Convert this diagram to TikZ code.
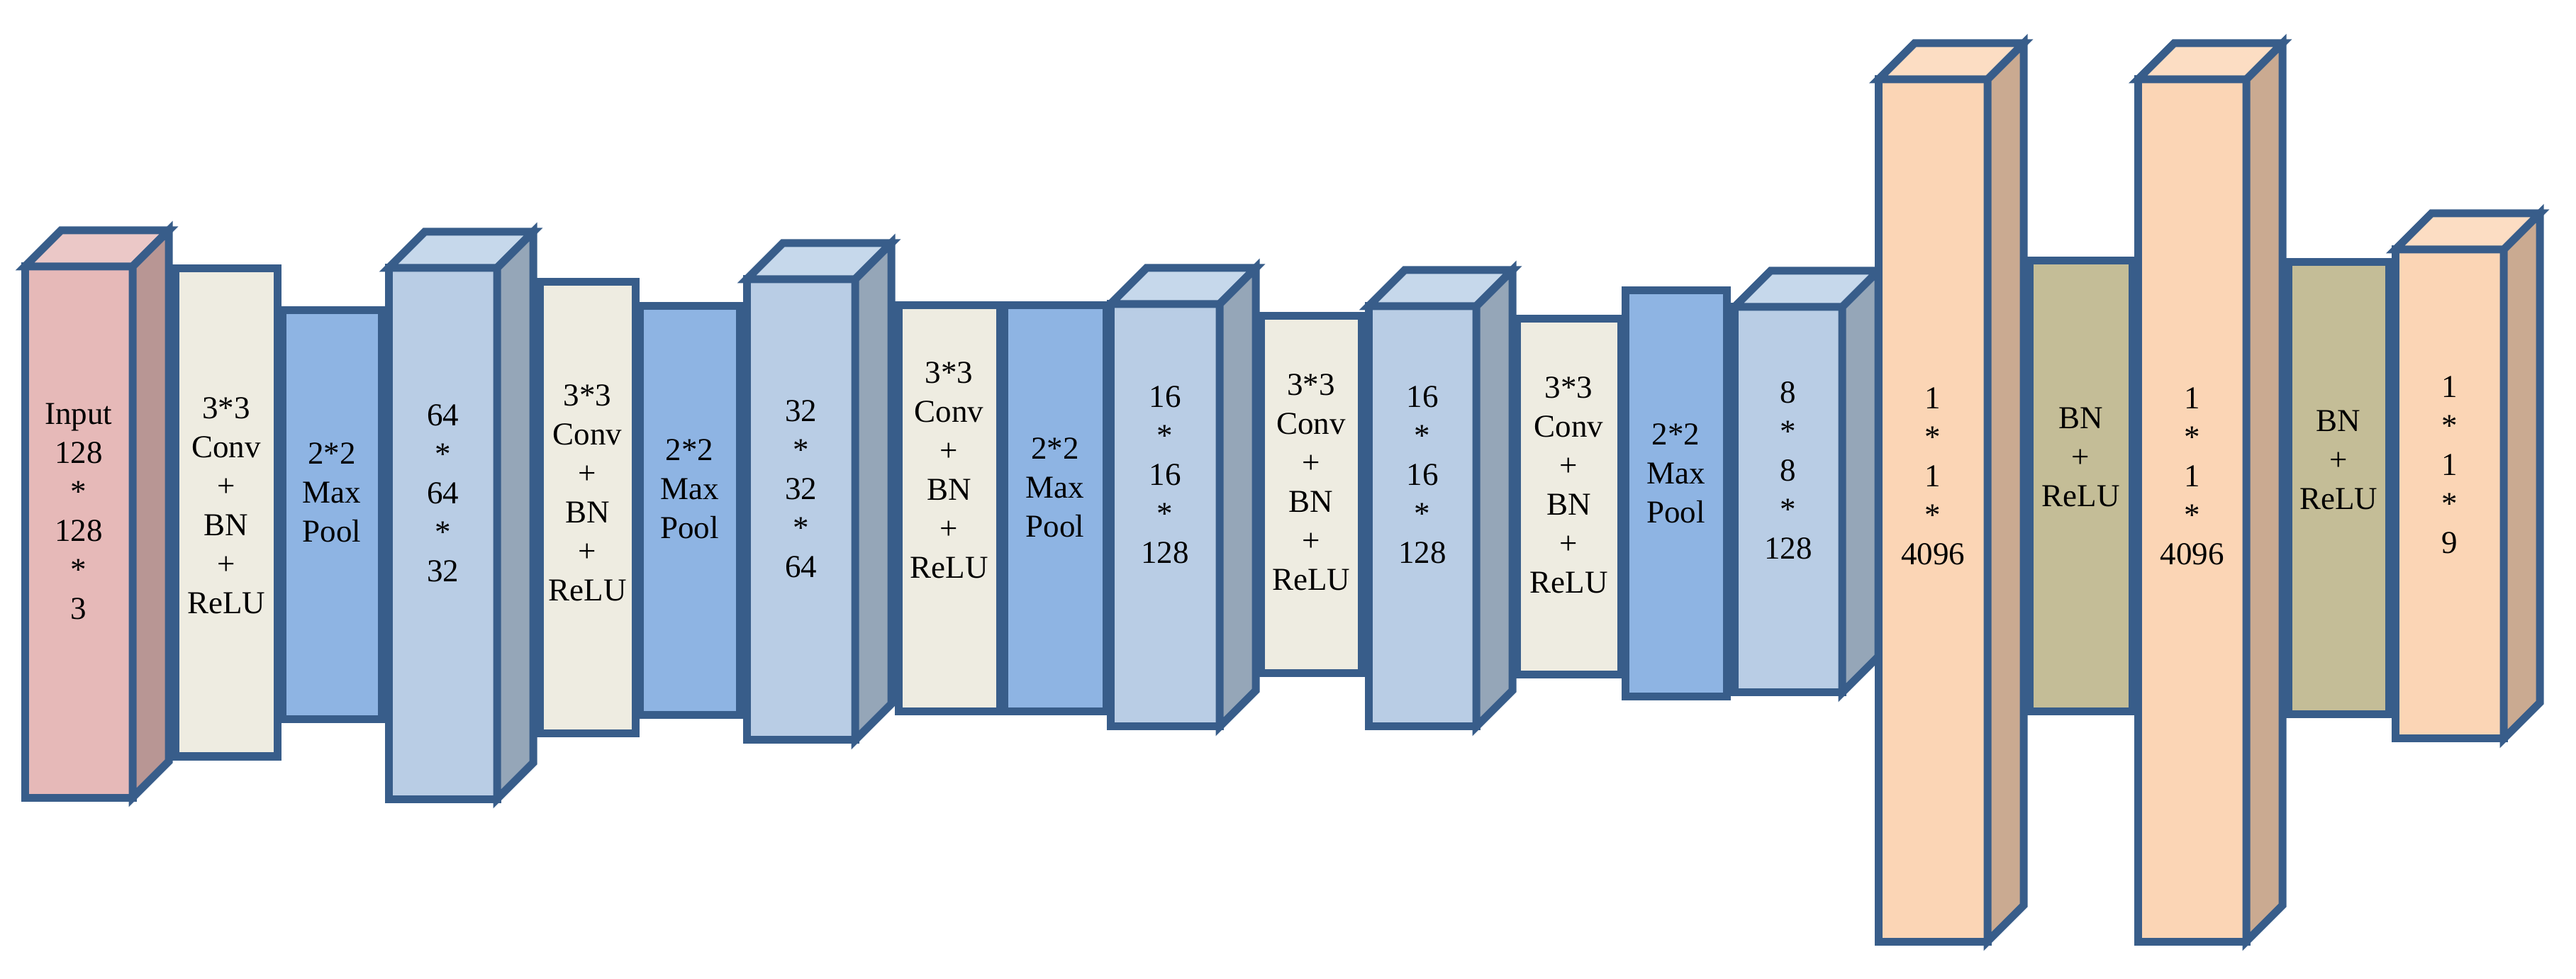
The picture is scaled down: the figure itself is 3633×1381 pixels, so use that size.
\documentclass[tikz,border=0pt]{standalone}
\usepackage{fontspec}
\setmainfont{Liberation Serif}
\definecolor{edge}{HTML}{385D8A}
\definecolor{pinkF}{HTML}{E6B9B8}
\definecolor{pinkS}{HTML}{B89694}
\definecolor{pinkT}{HTML}{EBC8C7}
\definecolor{blueF}{HTML}{B9CDE5}
\definecolor{blueS}{HTML}{95A6B8}
\definecolor{blueT}{HTML}{C6D8EB}
\definecolor{peachF}{HTML}{FBD5B5}
\definecolor{peachS}{HTML}{CAAA91}
\definecolor{peachT}{HTML}{FCDDC3}
\definecolor{creamF}{HTML}{EEECE1}
\definecolor{poolF}{HTML}{8EB4E3}
\definecolor{oliveF}{HTML}{C4BD97}
\tikzset{
  frame/.style={draw=edge, line width=2.2pt, line join=miter},
  lbl/.style={align=center, inner sep=0pt, font=\fontsize{9}{11}\selectfont, text=black}
}
% cube: name, x1, x2, y1, y2, colour prefix, text centre y, text
\newcommand{\mycube}[8]{%
  \draw[frame, fill=#6F] (#2,#4) rectangle (#3,#5);
  \draw[frame, fill=#6T] (#2,#4) -- ({#2+51},{#4-51}) -- ({#3+51},{#4-51}) -- (#3,#4) -- cycle;
  \draw[frame, fill=#6S] (#3,#4) -- ({#3+51},{#4-51}) -- ({#3+51},{#5-51}) -- (#3,#5) -- cycle;
  \node[lbl] (#1) at ({(#2+#3)/2},#7) {#8};
}
% flat box: name, x1, x2, y1, y2, colour, text centre y, text
\newcommand{\myflat}[8]{%
  \draw[frame, fill=#6] (#2,#4) rectangle (#3,#5);
  \node[lbl] (#1) at ({(#2+#3)/2},#7) {#8};
}
\begin{document}
\begin{tikzpicture}[x=0.2pt, y=-0.2pt]
\useasboundingbox (0,0) rectangle (3633,1381);
\mycube{input}{35}{187}{376}{1125}{pink}{721}{Input\\128\\*\\128\\*\\3}
\myflat{convA}{247}{391}{379}{1067}{creamF}{713}{3*3\\Conv\\+\\BN\\+\\ReLU}
\myflat{poolA}{398}{538}{438}{1015}{poolF}{695}{2*2\\Max\\Pool}
\mycube{fmA}{548}{701}{378}{1127}{blue}{696}{64\\*\\64\\*\\32}
\myflat{convB}{761}{896}{398}{1035}{creamF}{695}{3*3\\Conv\\+\\BN\\+\\ReLU}
\myflat{poolB}{902}{1043}{432}{1009}{poolF}{690}{2*2\\Max\\Pool}
\mycube{fmB}{1053}{1206}{394}{1044}{blue}{690}{32\\*\\32\\*\\64}
\myflat{convC}{1267}{1410}{431}{1004}{creamF}{663}{3*3\\Conv\\+\\BN\\+\\ReLU}
\myflat{poolC}{1416}{1560}{431}{1004}{poolF}{688}{2*2\\Max\\Pool}
\mycube{fmC}{1566}{1720}{429}{1025}{blue}{670}{16\\*\\16\\*\\128}
\myflat{convD}{1778}{1920}{446}{950}{creamF}{680}{3*3\\Conv\\+\\BN\\+\\ReLU}
\mycube{fmD}{1930}{2082}{432}{1025}{blue}{670}{16\\*\\16\\*\\128}
\myflat{convE}{2139}{2286}{450}{952}{creamF}{684}{3*3\\Conv\\+\\BN\\+\\ReLU}
\myflat{poolE}{2292}{2435}{410}{983}{poolF}{668}{2*2\\Max\\Pool}
\mycube{fmE}{2446}{2598}{433}{977}{blue}{664}{8\\*\\8\\*\\128}
\mycube{fcA}{2649}{2803}{112}{1328}{peach}{672}{1\\*\\1\\*\\4096}
\myflat{bnA}{2862}{3007}{368}{1004}{oliveF}{645}{BN\\+\\ReLU}
\mycube{fcB}{3015}{3168}{112}{1328}{peach}{672}{1\\*\\1\\*\\4096}
\myflat{bnB}{3227}{3369}{370}{1008}{oliveF}{649}{BN\\+\\ReLU}
\mycube{fcC}{3378}{3531}{352}{1042}{peach}{656}{1\\*\\1\\*\\9}
\end{tikzpicture}
\end{document}
